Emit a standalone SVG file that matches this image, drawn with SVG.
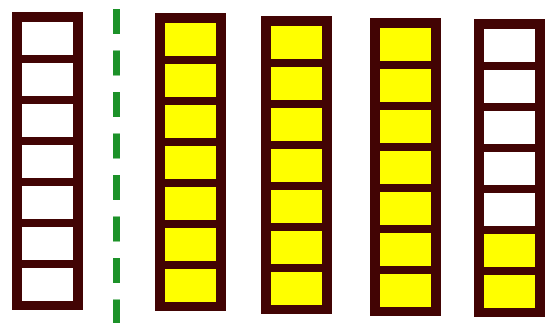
<svg xmlns="http://www.w3.org/2000/svg" xmlns:xlink="http://www.w3.org/1999/xlink" width="547" height="323" viewBox="0 0 547 323">
  <style>
    .frame { fill: #420404; }
    .empty { fill: #ffffff; }
    .full { fill: #ffff00; }
    .sep { stroke: #1c9229; stroke-width: 7; stroke-dasharray: 25 16.5; fill: none; }
  </style>
  <defs>
    <rect id="frame" class="frame" x="0" y="0" width="71" height="298"/>
  </defs>
  <rect x="0" y="0" width="547" height="323" fill="#ffffff"/>

  <g id="separator">
    <line class="sep" x1="116.5" y1="9" x2="116.5" y2="323"/>
  </g>

  <g id="column1" transform="translate(12,12)">
    <use xlink:href="#frame"/>
    <rect class="empty" x="10" y="10" width="51" height="33"/>
    <rect class="empty" x="10" y="51" width="51" height="33"/>
    <rect class="empty" x="10" y="92" width="51" height="33"/>
    <rect class="empty" x="10" y="133" width="51" height="33"/>
    <rect class="empty" x="10" y="174" width="51" height="33"/>
    <rect class="empty" x="10" y="215" width="51" height="33"/>
    <rect class="empty" x="10" y="256" width="51" height="33"/>
  </g>

  <g id="column2" transform="translate(155,13)">
    <use xlink:href="#frame"/>
    <rect class="full" x="10" y="10" width="51" height="33"/>
    <rect class="full" x="10" y="51" width="51" height="33"/>
    <rect class="full" x="10" y="92" width="51" height="33"/>
    <rect class="full" x="10" y="133" width="51" height="33"/>
    <rect class="full" x="10" y="174" width="51" height="33"/>
    <rect class="full" x="10" y="215" width="51" height="33"/>
    <rect class="full" x="10" y="256" width="51" height="33"/>
  </g>

  <g id="column3" transform="translate(261,16)">
    <use xlink:href="#frame"/>
    <rect class="full" x="10" y="10" width="51" height="33"/>
    <rect class="full" x="10" y="51" width="51" height="33"/>
    <rect class="full" x="10" y="92" width="51" height="33"/>
    <rect class="full" x="10" y="133" width="51" height="33"/>
    <rect class="full" x="10" y="174" width="51" height="33"/>
    <rect class="full" x="10" y="215" width="51" height="33"/>
    <rect class="full" x="10" y="256" width="51" height="33"/>
  </g>

  <g id="column4" transform="translate(370,18)">
    <use xlink:href="#frame"/>
    <rect class="full" x="10" y="10" width="51" height="33"/>
    <rect class="full" x="10" y="51" width="51" height="33"/>
    <rect class="full" x="10" y="92" width="51" height="33"/>
    <rect class="full" x="10" y="133" width="51" height="33"/>
    <rect class="full" x="10" y="174" width="51" height="33"/>
    <rect class="full" x="10" y="215" width="51" height="33"/>
    <rect class="full" x="10" y="256" width="51" height="33"/>
  </g>

  <g id="column5" transform="translate(474,19)">
    <use xlink:href="#frame"/>
    <rect class="empty" x="10" y="10" width="51" height="33"/>
    <rect class="empty" x="10" y="51" width="51" height="33"/>
    <rect class="empty" x="10" y="92" width="51" height="33"/>
    <rect class="empty" x="10" y="133" width="51" height="33"/>
    <rect class="empty" x="10" y="174" width="51" height="33"/>
    <rect class="full" x="10" y="215" width="51" height="33"/>
    <rect class="full" x="10" y="256" width="51" height="33"/>
  </g>
</svg>
